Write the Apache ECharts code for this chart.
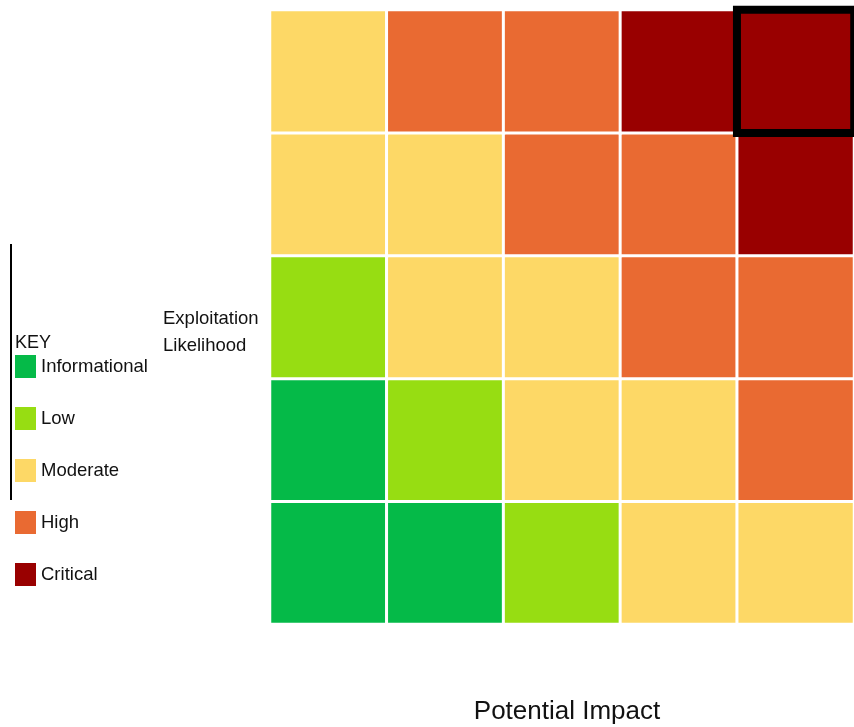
<!DOCTYPE html>
<html lang="en">
<head>
    <meta charset="UTF-8">
    <title>risk matrix</title>
    <style>
        html, body { margin: 0; padding: 0; background: #fff; }
    </style>
</head>
<body>
<div id="main" style="width: 854px;height: 727px"></div>
<script src="https://cdn.jsdelivr.net/npm/echarts@6/dist/echarts.min.js"></script>
<script>
    // levels, low to high
    const levels = ['Informational', 'Low', 'Moderate', 'High', 'Critical']
    const levelColors = ['#05ba48', '#97dd12', '#fdd866', '#e96a32', '#990000']
    const impact = ['1', '2', '3', '4', '5']
    const likelihood = ['1', '2', '3', '4', '5']
    // rows from likelihood 1 (bottom) to 5 (top), values are level index
    const matrix = [
        [0, 0, 1, 2, 2],
        [0, 1, 2, 2, 3],
        [1, 2, 2, 3, 3],
        [2, 2, 3, 3, 4],
        [2, 3, 3, 4, 4]
    ]
    const highlighted = [4, 4]

    const cells = []
    matrix.forEach((row, y) => {
        row.forEach((v, x) => {
            if (x === highlighted[0] && y === highlighted[1]) return
            cells.push([x, y, v])
        })
    })
    // the outlined cell last so its border sits on top
    cells.push({
        value: [highlighted[0], highlighted[1], matrix[highlighted[1]][highlighted[0]]],
        itemStyle: {borderColor: '#000', borderWidth: 8}
    })

    const font = '"Liberation Sans", Arial, sans-serif'
    const chart = echarts.init(document.getElementById('main'))
    chart.setOption({
        animation: false,
        textStyle: {fontFamily: font},
        grid: {left: 270, right: 0, top: 10, bottom: 103, outerBoundsMode: 'none'},
        xAxis: {
            type: 'category',
            data: impact,
            name: 'Potential Impact',
            nameLocation: 'middle',
            nameGap: 75,
            nameTextStyle: {fontSize: 26, color: '#111', fontFamily: font, padding: [0, 0, 0, 10]},
            axisLine: {show: false},
            axisTick: {show: false},
            axisLabel: {show: false},
            splitLine: {show: false}
        },
        yAxis: {
            type: 'category',
            data: likelihood,
            axisLine: {show: false},
            axisTick: {show: false},
            axisLabel: {show: false},
            splitLine: {show: false}
        },
        visualMap: {
            type: 'piecewise',
            dimension: 2,
            orient: 'vertical',
            inverse: true,
            left: 15,
            top: 355,
            padding: 0,
            itemWidth: 21,
            itemHeight: 23,
            itemGap: 29,
            textGap: 5,
            itemSymbol: 'rect',
            selectedMode: false,
            hoverLink: false,
            textStyle: {fontSize: 18.5, color: '#111', fontFamily: font},
            pieces: levels.map((name, i) => ({value: i, label: name, color: levelColors[i]}))
        },
        graphic: [
            {
                type: 'line',
                shape: {x1: 11, y1: 244, x2: 11, y2: 500},
                style: {stroke: '#000', lineWidth: 2}
            },
            {
                type: 'text',
                left: 15,
                top: 334,
                style: {text: 'KEY', fontSize: 18, fill: '#111', fontFamily: font}
            },
            {
                type: 'text',
                left: 163,
                top: 305,
                style: {text: 'Exploitation\nLikelihood', fontSize: 18.5, lineHeight: 27, fill: '#111', fontFamily: font}
            }
        ],
        series: [{
            type: 'heatmap',
            data: cells,
            itemStyle: {borderColor: '#fff', borderWidth: 3},
            emphasis: {disabled: true}
        }]
    })
</script>
</body>
</html>
